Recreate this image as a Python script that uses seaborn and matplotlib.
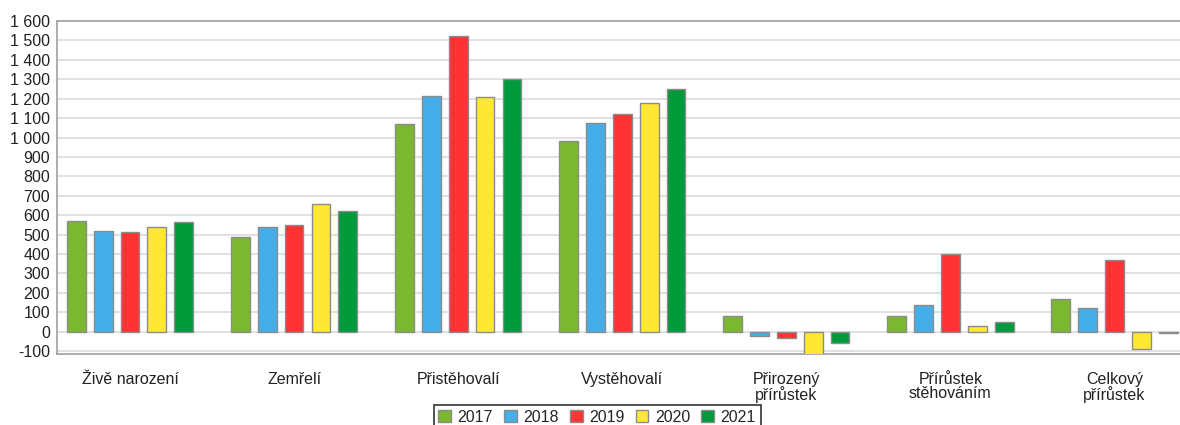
import matplotlib
matplotlib.use("Agg")
import matplotlib.pyplot as plt
import matplotlib.ticker as mticker
import pandas as pd
import seaborn as sns

# Kategorie a hodnoty podle let
kategorie = ["Živě narození", "Zemřelí", "Přistěhovalí", "Vystěhovalí",
             "Přirozený\npřírůstek", "Přírůstek\nstěhováním", "Celkový\npřírůstek"]
roky = ["2017", "2018", "2019", "2020", "2021"]
h2017 = [570, 485, 1067, 983, 83, 83, 166]
h2018 = [520, 541, 1212, 1073, -24, 138, 120]
h2019 = [513, 547, 1525, 1122, -31, 401, 367]
h2020 = [541, 660, 1207, 1178, -118, 27, -91]
h2021 = [563, 620, 1300, 1250, -58, 48, -6]
barvy = ["#7cb82f", "#45aee8", "#ff3333", "#ffe733", "#009a3d"]

rows = []
for rok, hodnoty in zip(roky, [h2017, h2018, h2019, h2020, h2021]):
    for k, v in zip(kategorie, hodnoty):
        rows.append({"kategorie": k, "rok": rok, "hodnota": v})
df = pd.DataFrame(rows)

sns.set_style("white")
plt.rcParams["font.family"] = ["Liberation Sans", "DejaVu Sans"]
FS = 11.5

fig = plt.figure(figsize=(11.8, 4.25), dpi=100)
ax = fig.add_axes([57 / 1180, 1 - 354 / 425, 1 - 57 / 1180, (354 - 21) / 425])

sns.barplot(data=df, x="kategorie", y="hodnota", hue="rok", order=kategorie,
            hue_order=roky, palette=barvy, width=0.82, gap=0.3,
            edgecolor="#8c8c8c", linewidth=1, saturation=1, ax=ax, zorder=3)

ax.set_ylim(-115, 1600)
ax.set_xlim(-0.445, 6.4)
ax.yaxis.set_major_locator(mticker.MultipleLocator(100))
ax.yaxis.set_major_formatter(mticker.FuncFormatter(
    lambda v, p: f"{int(v):,}".replace(",", " ")))
ax.grid(axis="y", color="#dcdcdc", linewidth=1.2, zorder=0)
ax.set_axisbelow(True)

for s in ["left", "bottom", "top"]:
    ax.spines[s].set_color("#a0a0a0")
    ax.spines[s].set_linewidth(1.2)
ax.spines["right"].set_visible(False)

ax.tick_params(axis="y", length=0, labelsize=FS, pad=5, labelcolor="#222222")
ax.tick_params(axis="x", length=4, color="#a0a0a0", labelsize=FS, pad=9,
               labelcolor="#222222")
for t in ax.get_xticklabels():
    t.set_linespacing(0.95)
ax.set_xlabel("")
ax.set_ylabel("")

ax.get_legend().remove()
handles, labels = ax.get_legend_handles_labels()
leg = fig.legend(handles[:5], labels[:5], loc="upper center",
                 bbox_to_anchor=(0.506, 20 / 425), ncol=5, frameon=True,
                 fancybox=False, edgecolor="black", fontsize=FS,
                 handlelength=0.8, handleheight=0.8, handletextpad=0.4,
                 columnspacing=0.7, borderpad=0.3, borderaxespad=0)
leg.get_frame().set_linewidth(1.2)

fig.savefig("out.png", dpi=100)
